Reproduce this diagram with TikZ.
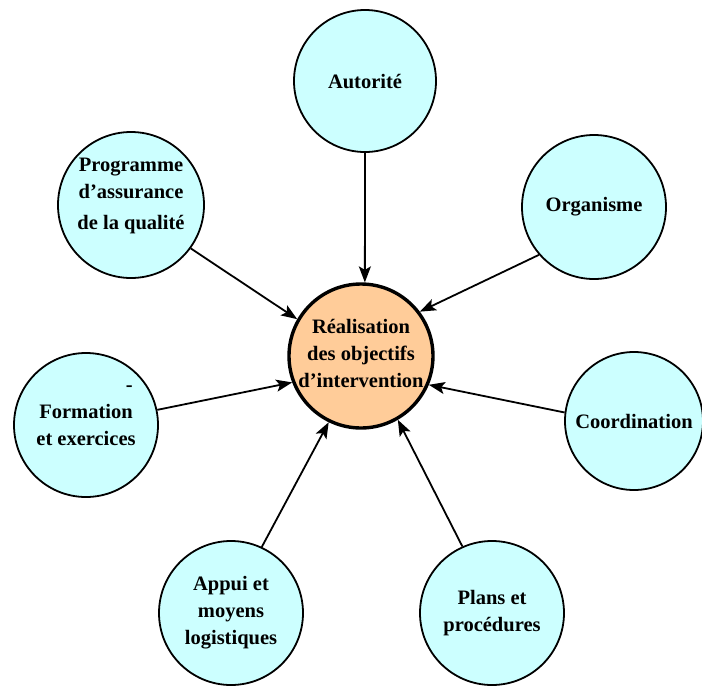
\documentclass[tikz,border=0pt]{standalone}
\usepackage{fontspec}
\setmainfont{Liberation Serif}
\usetikzlibrary{arrows.meta}
\definecolor{bubble}{HTML}{CCFFFF}
\definecolor{hub}{HTML}{FFCC99}
\begin{document}
\begin{tikzpicture}[x=1pt,y=-1pt,
  outer/.style={circle, draw=black, line width=1.8pt, fill=bubble,
    minimum size=144pt, inner sep=0pt},
  core/.style={circle, draw=black, line width=3.4pt, fill=hub,
    minimum size=144pt, inner sep=0pt},
  txt/.style={font=\bfseries\fontsize{20.5}{27}\selectfont, align=center,
    text=black, inner sep=0pt},
  link/.style={line width=1.8pt,
    -{Stealth[length=16pt,width=12pt,inset=3.5pt]}}]
\useasboundingbox (0,0) rectangle (702,686);

% central goal
\node[core, label={[txt,yshift=3pt]center:{R\'ealisation\\des objectifs\\d'intervention}}] (goal) at (361,356) {};

% surrounding factors
\node[outer, minimum size=142pt, label={[txt]center:{Autorit\'e}}] (aut) at (365,81) {};
\node[outer, minimum size=144pt, label={[txt]center:{Organisme}}] (org) at (594,207) {};
\node[outer, minimum size=138pt, label={[txt]center:{Coordination}}] (coord) at (634,421) {};
\node[outer, label={[txt]center:{Plans et\\proc\'edures}}] (plans) at (492,613) {};
\node[outer, label={[txt]center:{Appui et\\moyens\\logistiques}}] (appui) at (231,613) {};
\node[outer, label={[txt,yshift=9pt]center:{\hphantom{Formation}\llap{-}\\Formation\\et exercices}}] (form) at (86,425) {};
\node[outer, minimum size=146pt, label={[txt,yshift=9pt]center:{Programme\\d'assurance\\[4pt]de la qualit\'e}}] (prog) at (131,205) {};

% influences converging on the goal
\draw[link] (aut.south) -- (goal.87);
\draw[link] (org.221) -- (goal.37);
\draw[link] (coord.173) -- (goal.337);
\draw[link] (plans.114) -- (goal.300);
\draw[link] (appui.65) -- (goal.244);
\draw[link] (form.12) -- (goal.201);
\draw[link] (prog.324) -- (goal.150);
\end{tikzpicture}
\end{document}
